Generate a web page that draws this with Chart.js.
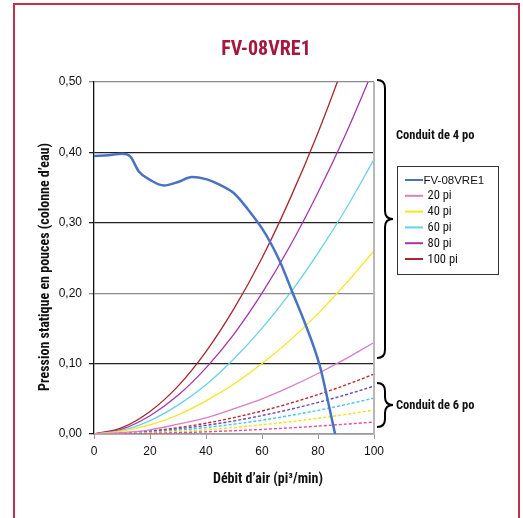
<!DOCTYPE html>
<html>
<head>
<meta charset="utf-8">
<script src="https://cdn.jsdelivr.net/npm/chart.js@4.4.0/dist/chart.umd.min.js"></script>
<style>
  html, body { margin: 0; padding: 0; background: #fff; }
  #wrap { position: relative; width: 523px; height: 518px; overflow: hidden; }
  #frame { position: absolute; left: 13px; top: 3px; width: 507px; height: 560px; border: 2px solid #c3304f; box-sizing: border-box; }
  canvas { position: absolute; left: 0; top: 0; }
</style>
</head>
<body>
<div id="wrap">
  <div id="frame"></div>
  <canvas id="chart" width="523" height="518"></canvas>
</div>
<script>
// ============================================
// DATA
// ============================================
const chartTitle = 'FV-08VRE1';
const xTitle = 'Débit d’air (pi³/min)';
const yTitle = 'Pression statique en pouces (colonne d’eau)';
const xTicks = [0, 20, 40, 60, 80, 100];
const yTicks = [0, 0.1, 0.2, 0.3, 0.4, 0.5];

// fan curve
const fanFlow = [0, 5, 10, 13, 16, 20, 25, 30, 35, 40, 45, 50, 55, 60, 63, 66.4, 71, 75.4, 80.7, 83.7, 86.1];
const fanPressure = [0.395, 0.396, 0.398, 0.394, 0.373, 0.361, 0.353, 0.358, 0.365, 0.362, 0.354, 0.342, 0.319, 0.292, 0.272, 0.245, 0.20, 0.157, 0.096, 0.044, 0];

// duct system curves
const ductFlow = [0, 10, 20, 30, 40, 50, 60, 70, 80, 90, 100];
const duct4Labels = ['20 pi', '40 pi', '60 pi', '80 pi', '100 pi'];
const duct4_20 = [0, 0.002, 0.006, 0.014, 0.023, 0.036, 0.050, 0.067, 0.086, 0.107, 0.130];
const duct4_40 = [0, 0.004, 0.013, 0.027, 0.047, 0.071, 0.100, 0.133, 0.171, 0.214, 0.260];
const duct4_60 = [0, 0.005, 0.019, 0.041, 0.070, 0.107, 0.150, 0.200, 0.257, 0.320, 0.390];
const duct4_80 = [0, 0.007, 0.026, 0.055, 0.094, 0.142, 0.200, 0.267, 0.343, 0.427, 0.520];
const duct4_100 = [0, 0.009, 0.032, 0.068, 0.117, 0.178, 0.250, 0.334, 0.428, 0.534, 0.650];

const duct6_20 = [0, 0.0002, 0.0008, 0.0018, 0.0031, 0.0047, 0.0065, 0.0087, 0.0112, 0.014, 0.017];
const duct6_40 = [0, 0.0005, 0.0017, 0.0036, 0.0061, 0.0093, 0.0131, 0.0174, 0.0224, 0.0279, 0.034];
const duct6_60 = [0, 0.0007, 0.0025, 0.0054, 0.0092, 0.014, 0.0196, 0.0262, 0.0336, 0.0419, 0.051];
const duct6_80 = [0, 0.0009, 0.0034, 0.0072, 0.0123, 0.0186, 0.0262, 0.0349, 0.0448, 0.0558, 0.068];
const duct6_100 = [0, 0.0011, 0.0042, 0.009, 0.0153, 0.0233, 0.0327, 0.0436, 0.056, 0.0698, 0.085];

const duct4Colors = ['#d77fc7', '#f7e61c', '#66d2e8', '#a336ad', '#a5282c'];
const duct6Colors = ['#f0479f', '#f2e21a', '#43c6f0', '#6a4ab8', '#c0282c'];
const fanColor = '#4a72c4';

const NARROW = "'Liberation Sans Narrow', 'Roboto Condensed', 'Arial Narrow', 'DejaVu Sans Condensed', sans-serif";

function toPoints(xs, ys) {
  return xs.map((x, i) => ({ x: x, y: ys[i] }));
}

// ============================================
// DATASETS
// ============================================
const datasets = [];
datasets.push({
  label: 'FV-08VRE1',
  data: toPoints(fanFlow, fanPressure),
  borderColor: fanColor,
  borderWidth: 2.5,
  cubicInterpolationMode: 'monotone',
  pointRadius: 0,
  order: 0
});
[duct4_20, duct4_40, duct4_60, duct4_80, duct4_100].forEach((arr, i) => {
  datasets.push({
    label: duct4Labels[i],
    data: toPoints(ductFlow, arr),
    borderColor: duct4Colors[i],
    borderWidth: 1.3,
    cubicInterpolationMode: 'monotone',
    pointRadius: 0,
    order: 1
  });
});
[duct6_20, duct6_40, duct6_60, duct6_80, duct6_100].forEach((arr, i) => {
  datasets.push({
    label: '6 po ' + duct4Labels[i],
    data: toPoints(ductFlow, arr),
    borderColor: duct6Colors[i],
    borderWidth: 1.4,
    borderDash: [3, 2],
    cubicInterpolationMode: 'monotone',
    pointRadius: 0,
    order: 1
  });
});

// ============================================
// EXTRAS (titles, braces, legend box)
// ============================================
function drawBrace(ctx, x, top, bottom, tipY) {
  const spine = x + 8;
  const tip = x + 16;
  const r = 8;
  ctx.beginPath();
  ctx.moveTo(x, top);
  ctx.quadraticCurveTo(spine, top, spine, top + r);
  ctx.lineTo(spine, tipY - r);
  ctx.quadraticCurveTo(spine, tipY, tip, tipY);
  ctx.quadraticCurveTo(spine, tipY, spine, tipY + r);
  ctx.lineTo(spine, bottom - r);
  ctx.quadraticCurveTo(spine, bottom, x, bottom);
  ctx.stroke();
}

const extras = {
  id: 'extras',
  afterDraw(chart) {
    const ctx = chart.ctx;
    const area = chart.chartArea;
    ctx.save();

    // right border of plot
    ctx.strokeStyle = '#b8b8b8';
    ctx.lineWidth = 2;
    ctx.beginPath();
    ctx.moveTo(area.right, area.top);
    ctx.lineTo(area.right, area.bottom);
    ctx.stroke();

    // title
    ctx.fillStyle = '#a3183c';
    ctx.font = 'bold 20px ' + NARROW;
    ctx.textAlign = 'center';
    ctx.textBaseline = 'middle';
    ctx.fillText(chartTitle, 266, 50);

    // axis titles
    ctx.fillStyle = '#111';
    ctx.font = 'bold 14px ' + NARROW;
    ctx.fillText(xTitle, 268, 479);
    ctx.save();
    ctx.translate(45, 267);
    ctx.rotate(-Math.PI / 2);
    ctx.fillText(yTitle, 0, 0);
    ctx.restore();

    // braces
    ctx.strokeStyle = '#000';
    ctx.lineWidth = 2;
    drawBrace(ctx, 377, 80, 358, 219);
    drawBrace(ctx, 377, 383, 427, 405);
    ctx.textAlign = 'left';
    ctx.font = 'bold 12.5px ' + NARROW;
    ctx.fillText('Conduit de 4 po', 396, 136);
    ctx.fillText('Conduit de 6 po', 396, 406);

    // legend
    ctx.fillStyle = '#fff';
    ctx.fillRect(397, 166, 102, 109);
    ctx.strokeStyle = '#333';
    ctx.lineWidth = 1;
    ctx.strokeRect(397.5, 166.5, 101, 108);
    const items = chart.data.datasets.slice(0, 6);
    items.forEach((ds, i) => {
      const y = 180 + i * 15.8;
      ctx.strokeStyle = ds.borderColor;
      ctx.lineWidth = 2;
      ctx.beginPath();
      ctx.moveTo(405, y);
      ctx.lineTo(423, y);
      ctx.stroke();
      ctx.fillStyle = '#111';
      if (i === 0) {
        ctx.font = '11.5px Arial, "Liberation Sans", sans-serif';
        ctx.fillText(ds.label, 423.5, y + 0.5);
      } else {
        ctx.font = '12.5px ' + NARROW;
        ctx.fillText(ds.label, 427.5, y + 0.5);
      }
    });

    ctx.restore();
  }
};

// ============================================
// CHART
// ============================================
function gridColor(ctx) {
  const v = ctx.tick ? Math.round(ctx.tick.value * 10) : 0;
  if (v === 2 || v === 5) return '#8a8a8a';
  return '#222';
}

new Chart(document.getElementById('chart'), {
  type: 'line',
  data: { datasets: datasets },
  options: {
    responsive: false,
    animation: false,
    layout: { padding: { left: 0, right: 149, top: 82, bottom: 0 } },
    plugins: {
      legend: { display: false },
      tooltip: { enabled: false }
    },
    scales: {
      x: {
        type: 'linear',
        min: 0,
        max: 100,
        afterBuildTicks: s => { s.ticks = xTicks.map(v => ({ value: v })); },
        afterFit: s => { s.height = 84; },
        grid: {
          drawOnChartArea: false,
          drawTicks: true,
          tickLength: 5,
          color: '#9a9a9a'
        },
        border: { color: '#9a9a9a', width: 1.5 },
        ticks: {
          color: '#111',
          padding: 5,
          maxRotation: 0,
          font: { family: 'Arial, "Liberation Sans", sans-serif', size: 12 }
        }
      },
      y: {
        type: 'linear',
        min: 0,
        max: 0.5,
        afterBuildTicks: s => { s.ticks = yTicks.map(v => ({ value: v })); },
        afterFit: s => { s.width = 94; },
        grid: {
          color: gridColor,
          lineWidth: 1.3,
          tickLength: 5
        },
        border: { color: '#111', width: 1.3 },
        ticks: {
          color: '#111',
          padding: 7,
          font: { family: 'Arial, "Liberation Sans", sans-serif', size: 12 },
          callback: v => v.toFixed(2).replace('.', ',')
        }
      }
    }
  },
  plugins: [extras]
});
</script>
</body>
</html>
